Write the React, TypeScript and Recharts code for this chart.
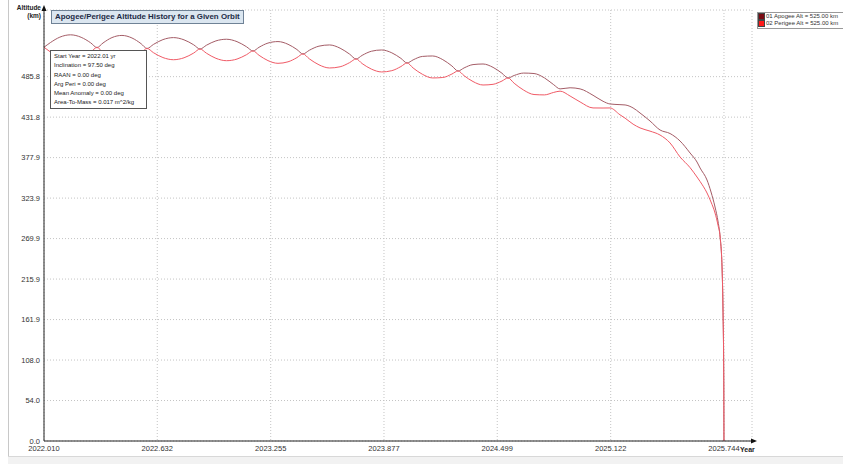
import React from 'react';
import { LineChart, Line, XAxis, YAxis, CartesianGrid, ReferenceDot } from 'recharts';

const years = [
  2022.010, 2022.045, 2022.097, 2022.156, 2022.214, 2022.266,
  2022.301, 2022.334, 2022.383, 2022.438, 2022.493, 2022.543,
  2022.576, 2022.611, 2022.663, 2022.721, 2022.779, 2022.832,
  2022.867, 2022.902, 2022.954, 2023.012, 2023.070, 2023.122,
  2023.158, 2023.191, 2023.240, 2023.295, 2023.350, 2023.399,
  2023.432, 2023.467, 2023.520, 2023.578, 2023.636, 2023.688,
  2023.724, 2023.757, 2023.808, 2023.864, 2023.920, 2023.970,
  2024.004, 2024.037, 2024.088, 2024.144, 2024.200, 2024.250,
  2024.284, 2024.317, 2024.366, 2024.421, 2024.476, 2024.525,
  2024.558, 2024.592, 2024.644, 2024.701, 2024.758, 2024.809,
  2024.844, 2024.899, 2024.954, 2025.025, 2025.080,
  2025.118, 2025.173, 2025.201, 2025.245, 2025.283, 2025.338,
  2025.393, 2025.448, 2025.503, 2025.558, 2025.596, 2025.613,
  2025.651, 2025.673, 2025.695, 2025.712, 2025.723, 2025.734,
  2025.739, 2025.743, 2025.744,
];

const apogeeKm = [
  525.0, 531.2, 538.5, 541.6, 538.3, 531.0,
  524.7, 530.7, 537.9, 540.8, 537.4, 529.8,
  523.4, 528.8, 535.2, 537.9, 534.9, 528.3,
  522.7, 527.7, 533.5, 535.7, 532.5, 525.7,
  520.1, 525.0, 530.6, 532.6, 529.0, 522.0,
  516.1, 521.0, 526.5, 528.1, 523.8, 515.9,
  509.4, 514.2, 519.7, 521.4, 517.6, 510.2,
  504.1, 508.2, 512.8, 513.4, 508.5, 500.1,
  493.4, 497.5, 501.9, 502.7, 498.2, 490.4,
  484.1, 487.4, 490.6, 490.0, 484.2, 475.1,
  469.5, 471.0, 469.5, 461.0, 453.0,
  449.4, 448.5, 448.1, 444.1, 437.4, 426.7,
  414.7, 410.0, 400.0, 384.0, 372.0, 364.0,
  348.0, 332.0, 312.0, 292.0, 272.0, 228.0,
  171.0, 81.0, 0,
];

const perigeeKm = [
  525.0, 518.8, 511.4, 508.2, 511.3, 518.6,
  524.7, 518.3, 510.7, 507.3, 510.2, 517.4,
  523.4, 517.8, 511.3, 508.4, 511.0, 517.3,
  522.7, 517.1, 510.3, 507.1, 509.3, 515.1,
  520.1, 514.3, 507.2, 503.6, 505.6, 511.2,
  516.1, 509.6, 501.6, 497.4, 499.0, 504.5,
  509.4, 503.3, 495.9, 492.1, 493.8, 499.3,
  504.1, 497.4, 489.0, 484.1, 484.7, 489.3,
  493.4, 487.1, 479.3, 474.7, 475.6, 480.0,
  484.1, 477.0, 467.9, 462.0, 461.5, 464.8,
  466.5, 460.0, 452.1, 444.1, 444.0,
  444.1, 435.0, 430.5, 422.5, 417.5, 413.2,
  408.0, 397.4, 378.7, 364.5, 352.0, 346.0,
  330.7, 318.7, 304.0, 287.0, 272.0, 228.0,
  171.0, 81.0, 0,
];

const xTicks = [2022.010, 2022.632, 2023.255, 2023.877, 2024.499, 2025.122, 2025.744];
const yTicks = [0, 53.98, 107.96, 161.94, 215.92, 269.9, 323.88, 377.86, 431.84, 485.82];
const xDomain = [2022.01, 2025.898];
const yDomain = [0, 574.7];

const titleText = 'Apogee/Perigee Altitude History for a Given Orbit';
const infoLines = [
  'Start Year = 2022.01 yr',
  'Inclination = 97.50 deg',
  'RAAN = 0.00 deg',
  'Arg Peri = 0.00 deg',
  'Mean Anomaly = 0.00 deg',
  'Area-To-Mass = 0.017 m^2/kg',
];
const legendItems = [
  { label: '01 Apogee Alt = 525.00 km', color: '#7a0a12', line: '#a45c66' },
  { label: '02 Perigee Alt = 525.00 km', color: '#ff1a1a', line: '#f05a66' },
];

const data = years.map((t, i) => ({ t, apogee: apogeeKm[i], perigee: perigeeKm[i] }));

const FONT = '"Liberation Sans", Arial, sans-serif';

const UpArrow = (p: any) => (
  <polygon points={`${p.cx - 2.5},${p.cy + 1} ${p.cx + 2.5},${p.cy + 1} ${p.cx},${p.cy - 5}`} fill="#111" />
);
const RightArrow = (p: any) => (
  <polygon points={`${p.cx - 1},${p.cy - 2.5} ${p.cx - 1},${p.cy + 2.5} ${p.cx + 5},${p.cy}`} fill="#111" />
);

export default function App() {
  return (
    <div style={{ position: 'absolute', left: 0, top: 0, width: 843, height: 464, background: '#fff', overflow: 'hidden', fontFamily: FONT }}>
      <div style={{ position: 'absolute', left: 8, top: 0, width: 1, height: 456, background: '#c8c8c8' }} />
      <div style={{ position: 'absolute', left: 8, top: 456, width: 835, height: 8, background: '#f2f2f2', borderTop: '1px solid #d8d8d8' }} />
      <LineChart
        width={843}
        height={464}
        data={data}
        margin={{ top: 10, right: 91, left: 0, bottom: 0 }}
        style={{ position: 'absolute', left: 0, top: 0 }}
      >
        <CartesianGrid stroke="#c4c4c4" strokeDasharray="1 2" />
        <XAxis
          type="number"
          dataKey="t"
          domain={xDomain}
          ticks={xTicks}
          interval={0}
          allowDataOverflow
          height={23}
          tickSize={0}
          tickMargin={5}
          tickFormatter={(v: number) => v.toFixed(3)}
          tick={{ fontSize: 7.5, fill: '#333', fontFamily: FONT }}
          axisLine={{ stroke: '#222' }}
        />
        <YAxis
          type="number"
          domain={yDomain}
          ticks={yTicks}
          interval={0}
          allowDataOverflow
          width={44}
          tickSize={0}
          tickMargin={4}
          tickFormatter={(v: number) => v.toFixed(1)}
          tick={{ fontSize: 7.5, fill: '#333', fontFamily: FONT }}
          axisLine={{ stroke: '#222' }}
        />
        <Line type="monotone" dataKey="apogee" stroke={legendItems[0].line} strokeWidth={1} dot={false} isAnimationActive={false} />
        <Line type="monotone" dataKey="perigee" stroke={legendItems[1].line} strokeWidth={1} dot={false} isAnimationActive={false} />
        <ReferenceDot x={xDomain[0]} y={yDomain[1]} r={0} ifOverflow="visible" shape={UpArrow} />
        <ReferenceDot x={xDomain[1]} y={0} r={0} ifOverflow="visible" shape={RightArrow} />
      </LineChart>

      {/* Y axis title */}
      <div style={{ position: 'absolute', right: 843 - 41, top: 4, fontSize: 6.5, fontWeight: 'bold', color: '#222', textAlign: 'right', lineHeight: '7.5px' }}>
        <div>Altitude</div>
        <div>(km)</div>
      </div>

      {/* Title box */}
      <div style={{ position: 'absolute', left: 51, top: 10, height: 12, padding: '0 3px', background: '#dbe6f0', border: '1px solid #6f8296', fontSize: 7.9, fontWeight: 'bold', color: '#1d2b45', lineHeight: '12px', whiteSpace: 'nowrap' }}>
        {titleText}
      </div>

      {/* Info box */}
      <div style={{ position: 'absolute', left: 50, top: 50, width: 92, height: 56, padding: '1px 0 0 3px', background: '#fff', border: '1px solid #555', fontSize: 6, color: '#222', lineHeight: '9.3px', whiteSpace: 'nowrap' }}>
        {infoLines.map((l) => (
          <div key={l}>{l}</div>
        ))}
      </div>

      {/* Legend */}
      <div style={{ position: 'absolute', left: 757, top: 12, width: 100, height: 15, background: '#fff', border: '1px solid #999', fontSize: 6, color: '#333', lineHeight: '7px', whiteSpace: 'nowrap' }}>
        {legendItems.map((it) => (
          <div key={it.label} style={{ display: 'flex', alignItems: 'center' }}>
            <span style={{ display: 'inline-block', width: 5, height: 5, background: it.color, marginRight: 1, border: '0.5px solid #444' }} />
            <span>{it.label}</span>
          </div>
        ))}
      </div>

      {/* X axis unit */}
      <div style={{ position: 'absolute', left: 740, top: 445, fontSize: 7, fontWeight: 'bold', color: '#222', lineHeight: '9px' }}>
        Year
      </div>
    </div>
  );
}
